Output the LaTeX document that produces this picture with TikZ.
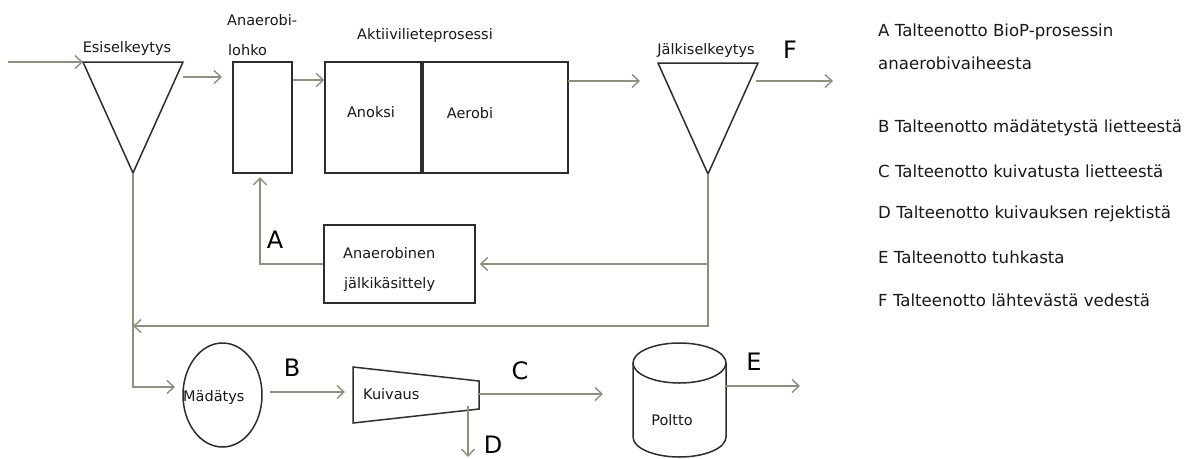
\documentclass[tikz,border=0pt]{standalone}
\usepackage{fontspec}
\setmainfont{DejaVu Sans}
\usetikzlibrary{arrows.meta,shapes.geometric}
\definecolor{lncol}{RGB}{143,143,128}
\definecolor{bxcol}{RGB}{45,45,45}
\begin{document}
\begin{tikzpicture}[x=1pt,y=-1pt,
  flow/.style={draw=lncol,line width=1.5pt,-{Straight Barb[length=7pt,width=13pt,line width=1.4pt]}},
  conn/.style={draw=lncol,line width=1.5pt},
  outline/.style={draw=bxcol,line width=1.5pt},
  box/.style={draw=bxcol,line width=1.5pt,inner sep=0pt,minimum width=#1},
  lbl/.style={font=\fontsize{14.5}{17}\selectfont,inner sep=0pt,text=black!90},
  big/.style={font=\fontsize{24}{28}\selectfont,inner sep=0pt,text=black},
  leg/.style={font=\fontsize{16.6}{19}\selectfont,inner sep=0pt,anchor=west,text=black!90}]
\useasboundingbox (0,0) rectangle (1193,458);
\fill[white] (0,0) rectangle (1193,458);

% --- Esiselkeytys
\coordinate (in) at (8,62);
\coordinate (esTL) at (83,62);
\coordinate (esTR) at (183,62);
\coordinate (esB) at (133,173);
\draw[outline,line join=miter] (esTL) -- (esTR) -- (esB) -- cycle;
\node[lbl] (esl) at (127,48) {Esiselkeytys};

% --- Anaerobilohko
\node[box=59pt,minimum height=111pt] (anb) at (262.5,117.5) {};
\node[lbl,anchor=west] (anbl1) at (227,20) {Anaerobi-};
\node[lbl,anchor=west] (anbl2) at (228,50) {lohko};

% --- Aktiivilieteprosessi
\node[box=96pt,minimum height=111pt] (anox) at (373,117.5) {};
\node[box=145pt,minimum height=111pt] (aer) at (495.5,117.5) {};
\node[lbl] (anoxl) at (371,112) {Anoksi};
\node[lbl] (aerl) at (470,113) {Aerobi};
\node[lbl] (aktl) at (425,35) {Aktiivilieteprosessi};

% --- Jalkiselkeytys
\coordinate (jTL) at (658,63);
\coordinate (jTR) at (758,63);
\coordinate (jB) at (708,174);
\draw[outline,line join=miter] (jTL) -- (jTR) -- (jB) -- cycle;
\node[lbl] (jl) at (706,50) {Jälkiselkeytys};

% --- Anaerobinen jalkikasittely
\node[box=151pt,minimum height=78pt] (anj) at (399.5,264) {};
\node[lbl,anchor=west] (anjl1) at (343,253) {Anaerobinen};
\node[lbl,anchor=west] (anjl2) at (344,284) {jälkikäsittely};

% --- Madatys
\node[ellipse,outline,minimum width=79pt,minimum height=104pt,inner sep=0pt] (mad) at (222.5,395) {};
\node[lbl,anchor=west] (madl) at (183,397) {Mädätys};

% --- Kuivaus
\coordinate (kTL) at (353,367);
\coordinate (kTR) at (479,381);
\coordinate (kBR) at (479,409);
\coordinate (kBL) at (353,423);
\draw[outline] (kTL) -- (kTR) -- (kBR) -- (kBL) -- cycle;
\node[lbl,anchor=west] (kuil) at (363,394) {Kuivaus};

% --- Poltto
\coordinate (pL) at (633,363);
\coordinate (pR) at (726,363);
\draw[outline] (pL) -- (633,437) arc[start angle=180,end angle=360,x radius=46.5pt,y radius=20pt] -- (pR);
\draw[outline] (679.5,363) ellipse[x radius=46.5pt,y radius=20pt];
\node[lbl] (pol) at (672,420) {Poltto};

% --- connectors
\coordinate (esOut) at (183,77);
\coordinate (anbIn) at (222,77);
\draw[flow] (in) -- (esTL);
\draw[flow] (esOut) -- (anbIn);
\draw[flow] (anb.east |- 0,80) -- (anox.west |- 0,80);
\coordinate (aerOut) at (568,81);
\coordinate (jIn) at (640,81);
\draw[flow] (aerOut) -- (jIn);
\coordinate (jOut) at (756,81);
\coordinate (fEnd) at (833,81);
\draw[flow] (jOut) -- (fEnd);

\coordinate (jDown) at (708,326);
\coordinate (jMid) at (708,264);
\coordinate (esDown) at (133,326);
\draw[flow] (jB) -- (jDown) -- (esDown);
\draw[flow,shorten >=4pt] (jMid) -- (anj.east);
\coordinate (aCorner) at (260,264);
\coordinate (aTop) at (260,173);
\draw[flow,shorten >=4pt] (anj.west) -- (aCorner) -- (aTop);

\coordinate (mCorner) at (133,387);
\coordinate (mIn) at (175,387);
\draw[flow] (esB) -- (mCorner) -- (mIn);

\coordinate (bStart) at (270,392);
\coordinate (bEnd) at (345,392);
\draw[flow] (bStart) -- (bEnd);

\coordinate (cStart) at (479,394);
\coordinate (cEnd) at (603,394);
\draw[flow] (cStart) -- (cEnd);

\coordinate (dStart) at (468,406);
\coordinate (dEnd) at (468,457);
\draw[flow] (dStart) -- (dEnd);

\coordinate (eStart) at (726,386);
\coordinate (eEnd) at (800,386);
\draw[flow] (eStart) -- (eEnd);

% --- letters
\node[big] (lA) at (275,240) {A};
\node[big] (lB) at (292,368) {B};
\node[big] (lC) at (520,371) {C};
\node[big] (lD) at (493,445) {D};
\node[big] (lE) at (754,362) {E};
\node[big] (lF) at (790,50) {F};

% --- legend
\node[leg] (legA1) at (878,32) {A Talteenotto BioP-prosessin};
\node[leg] (legA2) at (878,63) {anaerobivaiheesta};
\node[leg] (legB) at (878,128) {B Talteenotto mädätetystä lietteestä};
\node[leg] (legC) at (878,171) {C Talteenotto kuivatusta lietteestä};
\node[leg] (legD) at (878,214) {D Talteenotto kuivauksen rejektistä};
\node[leg] (legE) at (878,257) {E Talteenotto tuhkasta};
\node[leg] (legF) at (878,300) {F Talteenotto lähtevästä vedestä};
\end{tikzpicture}
\end{document}
